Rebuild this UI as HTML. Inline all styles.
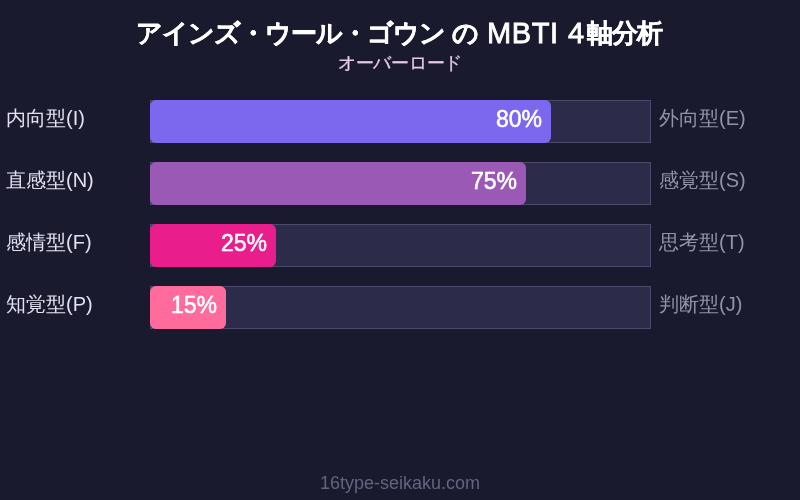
<!DOCTYPE html>
<html lang="ja"><head><meta charset="utf-8">
<style>
html,body{margin:0;padding:0;}
body{will-change:transform;width:800px;height:500px;background:#1a1a2e;position:relative;overflow:hidden;font-family:"Liberation Sans",sans-serif;}
.title{position:absolute;left:0;width:800px;top:15px;height:36px;color:#fff;font-size:26px;font-weight:bold;line-height:36px;white-space:nowrap;}
.ts{position:absolute;top:0;-webkit-text-stroke:0.4px #fff;}
.lat{font-size:29px;font-weight:normal;-webkit-text-stroke:0.8px #fff;}
.sub{position:absolute;left:0;width:800px;top:52px;text-align:center;color:#e6cae6;font-size:18px;letter-spacing:-0.3px;-webkit-text-stroke:0.25px #e6cae6;line-height:22px;}
.row{position:absolute;left:0;width:800px;height:43px;}
.lab{position:absolute;left:6px;top:-3px;line-height:43px;font-size:20px;color:#e2e0f0;}
.rlab{position:absolute;left:659px;top:-3px;line-height:43px;font-size:20px;color:#9393a8;}
.track{position:absolute;left:150px;top:0;width:499px;height:41px;border:1px solid #4a4a6a;background:#2d2b4a;}
.fill{position:absolute;left:-1px;top:-1px;height:43px;border-radius:6px;}
.pct{position:absolute;right:9px;top:-2px;line-height:43px;font-size:23px;font-weight:normal;color:#fff;-webkit-text-stroke:0.55px #fff;}
.foot{position:absolute;left:0;width:800px;top:472px;text-align:center;color:#65637f;font-size:18px;line-height:22px;}
</style></head><body>
<div class="title"><span class="ts" style="left:136px;letter-spacing:-1px">アインズ・ウール・ゴウン</span><span class="ts" style="left:451.5px">の</span><span class="ts lat" style="left:487px;letter-spacing:0.6px">MBTI</span><span class="ts lat" style="left:568px">4</span><span class="ts" style="left:587px;letter-spacing:-1px">軸分析</span></div>
<div class="sub">オーバーロード</div>

<div class="row" style="top:100px">
 <div class="lab">内向型(I)</div>
 <div class="track"><div class="fill" style="width:401px;background:#7b68ee"><span class="pct">80%</span></div></div>
 <div class="rlab">外向型(E)</div>
</div>
<div class="row" style="top:162px">
 <div class="lab">直感型(N)</div>
 <div class="track"><div class="fill" style="width:376px;background:#9b59b6"><span class="pct">75%</span></div></div>
 <div class="rlab">感覚型(S)</div>
</div>
<div class="row" style="top:224px">
 <div class="lab">感情型(F)</div>
 <div class="track"><div class="fill" style="width:126px;background:#e91e8c"><span class="pct">25%</span></div></div>
 <div class="rlab">思考型(T)</div>
</div>
<div class="row" style="top:286px">
 <div class="lab">知覚型(P)</div>
 <div class="track"><div class="fill" style="width:76px;background:#ff6b9d"><span class="pct">15%</span></div></div>
 <div class="rlab">判断型(J)</div>
</div>

<div class="foot">16type-seikaku.com</div>
</body></html>
